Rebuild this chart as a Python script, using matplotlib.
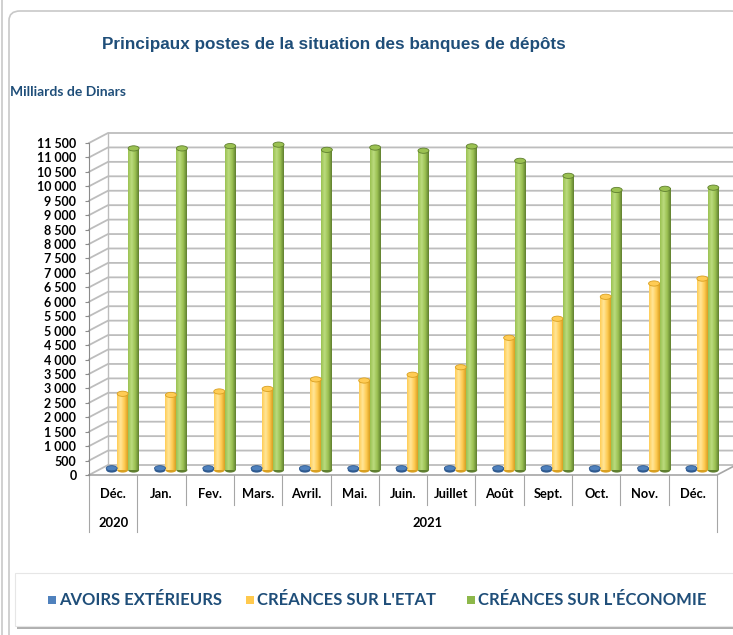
import numpy as np
import matplotlib
matplotlib.use("Agg")
import matplotlib.pyplot as plt
from matplotlib.patches import Rectangle, Ellipse, FancyBboxPatch
from matplotlib.lines import Line2D

# data (milliards de dinars)
months = ["Déc.", "Jan.", "Fev.", "Mars.", "Avril.", "Mai.", "Juin.",
          "Juillet", "Août", "Sept.", "Oct.", "Nov.", "Déc."]
years = ["2020", "2021"]
year_span = [1, 12]
avoirs_ext = [60, 60, 60, 60, 60, 60, 60, 60, 60, 60, 60, 60, 60]
creances_etat = [2640, 2600, 2720, 2810, 3140, 3100, 3300, 3560, 4580, 5240,
                 6000, 6460, 6630]
creances_eco = [11140, 11140, 11220, 11270, 11090, 11170, 11060, 11210, 10710,
                10190, 9700, 9740, 9780]
series_names = ["AVOIRS EXTÉRIEURS", "CRÉANCES SUR L'ETAT",
                "CRÉANCES SUR L'ÉCONOMIE"]
yticks = np.arange(0, 11501, 500)

navy = "#1F4E79"
grid_col = "#BDBDBD"
colors = {
    0: ("#7FA3D6", "#4F81BD", "#2F5A8F"),
    1: ("#FFE699", "#FFCC55", "#D9A021"),
    2: ("#BBDB7E", "#9BC152", "#5F7F2F"),
}
legend_cols = ["#4F81BD", "#FFC94D", "#8DB84A"]

W, H = 733, 635
fig = plt.figure(figsize=(W / 100, H / 100), dpi=100)
font = "Lato"

# outer frames
fig.add_artist(Line2D([2 / W, 2 / W], [0, 1], color="#C8C8C8", lw=1.2,
                      zorder=-2))
fig.add_artist(FancyBboxPatch((9 / W, -0.05), 1.0, 1 - 11 / H + 0.05,
                              boxstyle="round,pad=0,rounding_size=0.015",
                              fc="white", ec="#C8C8C8", lw=1.2,
                              transform=fig.transFigure, zorder=-2))

fig.text(334 / W, 1 - 45 / H, "Principaux postes de la situation des banques de dépôts",
         ha="center", va="center", fontsize=12.3, fontweight="bold",
         color=navy, family="Liberation Sans")
fig.text(10 / W, 1 - 92 / H, "Milliards de Dinars", ha="left", va="center",
         fontsize=10, fontweight="bold", color=navy, family=font)

# plot area (front plane)
x0, x1, ytop, ybot = 89, 717, 143, 475
ax = fig.add_axes([x0 / W, 1 - ybot / H, (x1 - x0) / W, (ybot - ytop) / H])
ax.patch.set_alpha(0)
cat_px = (x1 - x0) / 13
val_px = (ybot - ytop) / 11500
DX = 19 / cat_px          # depth shift in x data units
DY = 10 / val_px          # depth shift in y data units
xedge = (W - x0) / cat_px - 0.5

for s in ["top", "right", "bottom"]:
    ax.spines[s].set_visible(False)
ax.spines["left"].set_color("#8C8C8C")
ax.set_xticks([])
ax.set_yticks(yticks)
ax.set_yticklabels([f"{v:,}".replace(",", " ") for v in yticks],
                   fontsize=9, fontweight="bold", family=font)
ax.tick_params(axis="y", length=3, color="#8C8C8C", pad=6)

# back wall grid lines
for v in yticks:
    ax.plot([-0.5, -0.5 + DX, xedge], [v, v + DY, v + DY], color=grid_col,
            lw=1.3, clip_on=False, zorder=1)
ax.plot([-0.5 + DX, -0.5 + DX], [DY, 11500 + DY], color=grid_col, lw=1.0,
        clip_on=False, zorder=1)
# floor
ax.plot([-0.5, 12.5, 12.5 + DX], [0, 0, DY], color="#A6A6A6", lw=1.2,
        clip_on=False, zorder=1)

# cylinders
bw = 0.227
offsets = [-bw, 0, bw]
grad = np.linspace(0, 1, 64)
cap_h = 2.6 / val_px
for k, vals in enumerate([avoirs_ext, creances_etat, creances_eco]):
    light, mid, dark = colors[k]
    cmap = matplotlib.colors.LinearSegmentedColormap.from_list(
        f"c{k}", [mid, light, mid, dark])
    for i, v in enumerate(vals):
        xl = i + offsets[k] + DX / 2 - bw / 2
        yb = DY / 2
        rect = Rectangle((xl, yb), bw, v, fc="none", ec="none")
        ax.add_patch(rect)
        im = ax.imshow(grad[None, :], cmap=cmap, aspect="auto",
                       extent=[xl, xl + bw, yb, yb + v], zorder=3,
                       clip_on=False)
        im.set_clip_path(rect)
        ax.add_patch(Ellipse((xl + bw / 2, yb), bw, 2 * cap_h, fc=dark,
                             ec="none", zorder=2.9, clip_on=False))
        ax.add_patch(Ellipse((xl + bw / 2, yb + v), bw, 2 * cap_h, fc=mid,
                             ec=dark, lw=0.6, zorder=3.1, clip_on=False))

ax.set_xlim(-0.5, 12.5)
ax.set_ylim(0, 11500)

# category axis
tr = ax.get_xaxis_transform()
row1 = -(494 - ybot) / (ybot - ytop)
row2 = -(523 - ybot) / (ybot - ytop)
sep1 = -(505 - ybot) / (ybot - ytop)
sep2 = -(532 - ybot) / (ybot - ytop)
for i, m in enumerate(months):
    ax.text(i, row1, m, transform=tr, ha="center", va="center", fontsize=9.3,
            fontweight="bold", family=font)
bounds = np.cumsum([0] + year_span) - 0.5
for i in range(14):
    xb = i - 0.5
    low = sep2 if xb in bounds else sep1
    ax.plot([xb, xb], [0, low], transform=tr, color="#A6A6A6", lw=0.8,
            clip_on=False)
for y, a, b in zip(years, bounds[:-1], bounds[1:]):
    ax.text((a + b) / 2, row2, y, transform=tr, ha="center", va="center",
            fontsize=9.3, fontweight="bold", family=font)

# legend box
sh = FancyBboxPatch((17 / W, 1 - 629 / H), 1.0, 53 / H,
                    boxstyle="square,pad=0", fc="#B0B0B0", ec="none",
                    transform=fig.transFigure, zorder=0.5)
lg = FancyBboxPatch((15 / W, 1 - 626 / H), 1.0, 53 / H,
                    boxstyle="square,pad=0", fc="white", ec="#E6E6E6", lw=0.8,
                    transform=fig.transFigure, zorder=1)
fig.add_artist(sh)
fig.add_artist(lg)
lx = [48, 246, 467]
for name, col, xp in zip(series_names, legend_cols, lx):
    fig.add_artist(Rectangle((xp / W, 1 - 604 / H), 8 / W, 8 / H, fc=col,
                             ec="none", transform=fig.transFigure, zorder=2))
    fig.text((xp + 11) / W, 1 - 600 / H, name, ha="left", va="center",
             fontsize=12, fontweight="bold", color=navy, family=font, zorder=2)

fig.savefig("out.png", dpi=100)
